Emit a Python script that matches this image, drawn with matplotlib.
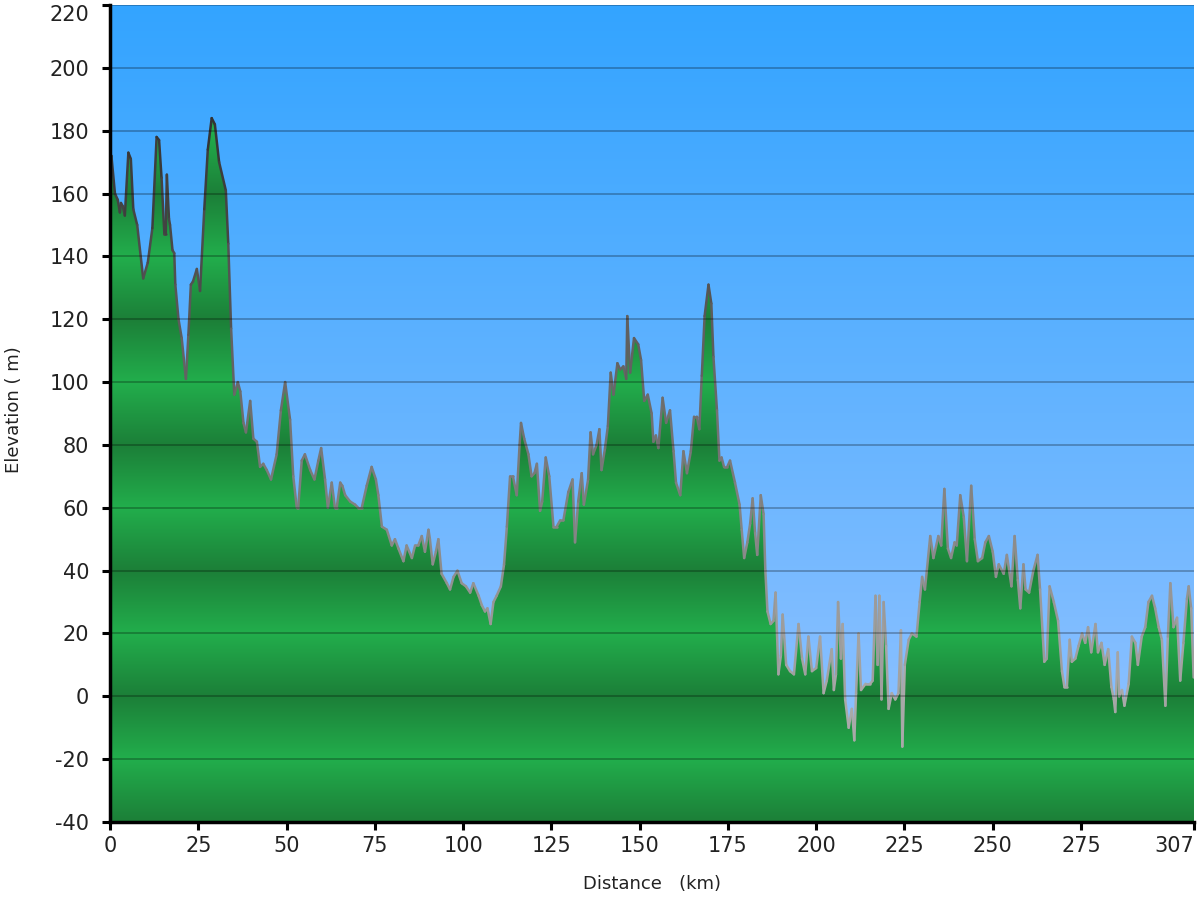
import numpy as np
import matplotlib
matplotlib.use("Agg")
import matplotlib.pyplot as plt
from matplotlib.colors import to_rgb
from matplotlib.collections import LineCollection
from matplotlib.patches import PathPatch
from matplotlib.path import Path

plt.rcParams["axes.unicode_minus"] = False
plt.rcParams["font.family"] = ["DejaVu Sans"]

# ---------------- data ----------------
distance_km = [
    0, 0.4, 1.4, 2.2, 2.8, 3.1, 3.6, 4.2, 5.2, 5.9, 6.6, 7.7, 9.4, 10.7, 12, 13.2, 13.9, 14.6,
    15.4, 15.8, 16.1, 16.7, 17, 17.7, 18.2, 18.5, 19.4, 20.3, 21.5, 22.2, 22.9, 23.5, 24.6,
    25.5, 26.7, 27.7, 28.8, 29.7, 30.9, 32.8, 33.5, 34.3, 35.2, 36.2, 36.9, 37.8, 38.5, 39.7,
    40.6, 41.6, 42.5, 43.4, 44.4, 45.6, 47.2, 48.4, 49.6, 51, 51.9, 52.9, 53.3, 54.3, 55.2,
    56.7, 57.9, 59, 59.8, 60.9, 61.7, 62.8, 63.7, 64.2, 65.2, 65.8, 66.6, 68, 69.4, 70.3,
    71.3, 72.7, 74.1, 75.3, 76, 77, 78.4, 79.8, 80.7, 81.7, 83.1, 84, 85.5, 86.4, 87.3, 88.3,
    89.2, 90.2, 90.6, 91.4, 92.3, 93, 93.9, 95.4, 96.3, 97.3, 98.4, 99.6, 100.8, 102, 102.9,
    104.4, 105.3, 106.2, 106.9, 107.8, 108.6, 109.5, 110.7, 111.6, 112.4, 113.3, 114.1, 115.2,
    116, 116.4, 117.3, 118.5, 119.4, 120.2, 120.9, 121.8, 122.4, 123.4, 124.4, 125.6, 126.5,
    127.5, 128.4, 129.8, 131, 131.7, 132.6, 133.6, 134.2, 135.4, 136.1, 136.8, 137.8, 138.6,
    139.2, 140.2, 141, 141.8, 142.6, 143.7, 144.5, 145.4, 146.2, 146.5, 147.3, 148.4, 149.6,
    150.4, 151.3, 152.3, 153.4, 153.9, 154.6, 155.3, 156.5, 157.5, 158.6, 159.6, 160.3, 161.5,
    162.4, 163.4, 164.5, 165.4, 166.2, 166.9, 167.6, 168.4, 169.5, 170.3, 170.9, 171.9, 172.6,
    173.2, 173.9, 174.8, 175.6, 177, 178.3, 178.9, 179.6, 180.5, 181.3, 182, 182.7, 183.3,
    184.3, 185.1, 185.6, 186.2, 187.1, 187.9, 188.5, 189.3, 190, 190.5, 191.5, 192.6, 193.7,
    195, 196, 196.9, 197.8, 198.8, 200, 201.1, 202.1, 203, 204.4, 205, 205.6, 206.2, 207,
    207.5, 208.2, 209.2, 210.1, 210.8, 211.3, 212, 212.7, 214, 215.3, 216, 216.8, 217.4,
    217.9, 218.5, 219.1, 219.8, 220.5, 221.4, 222.4, 223.3, 224, 224.4, 225.1, 226.2, 227.1,
    228.4, 229.3, 230, 230.8, 232.3, 233.2, 234.6, 235.4, 236.3, 237.3, 238.2, 239.2, 239.8,
    240.8, 241.8, 242.7, 243.9, 244.9, 245.8, 247, 247.9, 248.9, 250, 250.9, 251.7, 253.1,
    254, 255.3, 256.2, 257.1, 257.8, 258.7, 259.3, 260.3, 261.5, 262.7, 263.4, 264.6, 265.3,
    266.1, 267.3, 268.5, 269.6, 270.3, 271, 271.8, 272.4, 273.4, 274.3, 275.3, 276.2, 277,
    277.9, 279.1, 279.8, 280.8, 281.7, 282.7, 283.6, 284.3, 284.7, 285.4, 285.8, 286.6,
    287.3, 288.5, 289.4, 290.4, 291.1, 292.2, 293.2, 294.1, 295.1, 296, 297, 297.9, 298.9,
    299.6, 300.3, 301.2, 302.2, 303.1, 304, 305, 305.5, 306.2, 306.9, 307,
]
elevation_m = [
    165, 172, 160, 158, 154, 157, 156, 153, 173, 171, 155, 150, 133, 138, 149, 178, 177, 165,
    147, 147, 166, 152, 150, 142, 141, 131, 120, 114, 101, 115, 131, 132, 136,
    129, 155, 174, 184, 182, 170, 161, 144, 117, 96, 100, 97, 87, 84, 94,
    82, 81, 73, 74, 72, 69, 77, 91, 100, 88, 70, 60, 60, 75, 77,
    72, 69, 75, 79, 69, 60, 68, 60, 60, 68, 67, 64, 62, 61, 60,
    60, 67, 73, 69, 64, 54, 53, 48, 50, 47, 43, 48, 44, 48, 48, 51,
    46, 53, 50, 42, 46, 50, 39, 36, 34, 38, 40, 36, 35, 33, 36,
    32, 29, 27, 28, 23, 30, 32, 35, 42, 54, 70, 70, 64,
    80, 87, 82, 77, 70, 71, 74, 59, 62, 76, 70, 54, 54,
    56, 56, 65, 69, 49, 62, 71, 61, 69, 84, 77, 80, 85,
    72, 79, 86, 103, 96, 106, 104, 105, 101, 121, 103, 114, 112,
    107, 94, 96, 90, 81, 83, 79, 95, 87, 91, 78, 68, 64,
    78, 71, 78, 89, 89, 85, 102, 121, 131, 125, 108, 91, 75,
    76, 73, 73, 75, 68, 61, 53, 44, 49, 55, 63, 52, 45,
    64, 58, 40, 27, 23, 24, 33, 7, 13, 26, 10, 8, 7,
    23, 12, 7, 19, 8, 9, 19, 1, 5, 15, 2, 7, 30, 12,
    23, -1, -10, -4, -14, 1, 20, 2, 4, 4, 5, 32, 10,
    32, -1, 30, 16, -4, 1, -1, 1, 21, -16, 10, 18, 20,
    19, 30, 38, 34, 51, 44, 51, 48, 66, 47, 44, 49, 48,
    64, 57, 43, 67, 50, 43, 44, 49, 51, 46, 38, 42, 39,
    45, 35, 51, 37, 28, 42, 34, 33, 40, 45, 34, 11, 12,
    35, 30, 24, 8, 3, 3, 18, 11, 12, 16, 20, 17, 22,
    14, 23, 14, 17, 10, 15, 3, -1, -5, 14, 0, 2,
    -3, 4, 19, 17, 10, 19, 22, 30, 32, 28, 22, 18, -3,
    19, 36, 22, 25, 5, 17, 31, 35, 28, 6, 6,
]
x_ticks = [0, 25, 50, 75, 100, 125, 150, 175, 200, 225, 250, 275, 307]
y_ticks = list(range(-40, 221, 20))
x_label = "Distance   (km)"
y_label = "Elevation ( m)"

x = np.asarray(distance_km, dtype=float)
y = np.asarray(elevation_m, dtype=float)
xmin, xmax = 0, 307
ymin, ymax = -40, 220

# ---------------- figure ----------------
fig = plt.figure(figsize=(12, 9), dpi=100)
ax = fig.add_axes([110 / 1200, 78 / 900, 1084 / 1200, 817 / 900])
ax.set_xlim(xmin, xmax)
ax.set_ylim(ymin, ymax)

# sky gradient
n = 600
yy = np.linspace(ymax, ymin, n)
top = np.array(to_rgb("#33a4ff"))
bot = np.array(to_rgb("#97c4ff"))
t = ((ymax - yy) / (ymax - ymin))[:, None]
sky = (top * (1 - t) + bot * t)[:, None, :]
ax.imshow(sky, extent=[xmin, xmax, ymin, ymax], aspect="auto", zorder=0,
          interpolation="bilinear")

# green banded terrain (dark at multiples of 40, light in between)
light = np.array(to_rgb("#22ae4c"))
dark = np.array(to_rgb("#1c7f38"))
d = np.abs(((yy + 20) % 40) - 20) / 20.0
d = d[:, None]
green = (dark * (1 - d) + light * d)[:, None, :]
im = ax.imshow(green, extent=[xmin, xmax, ymin, ymax], aspect="auto", zorder=0.5,
               interpolation="bilinear")
verts = [(x[0], ymin)] + list(zip(x, y)) + [(x[-1], ymin), (x[0], ymin)]
codes = [Path.MOVETO] + [Path.LINETO] * (len(verts) - 2) + [Path.CLOSEPOLY]
clip = PathPatch(Path(verts, codes), transform=ax.transData, facecolor="none",
                 edgecolor="none")
ax.add_patch(clip)
im.set_clip_path(clip)

# outline, greyer at low elevations
pts = np.column_stack([x, y])
segs = np.stack([pts[:-1], pts[1:]], axis=1)
mid = (y[:-1] + y[1:]) / 2
f = np.clip((mid - 0) / 180.0, 0, 1)[:, None]
c_hi = np.array(to_rgb("#333333"))
c_lo = np.array(to_rgb("#a9a9a9"))
cols = c_lo * (1 - f) + c_hi * f
lc = LineCollection(segs, colors=cols, linewidths=1.8, zorder=1, capstyle="round",
                    joinstyle="round")
ax.add_collection(lc)

# grid
ax.set_axisbelow(False)
ax.yaxis.grid(True, color="black", alpha=0.3, linewidth=1.2)
ax.xaxis.grid(False)

# axes styling
for s in ["top", "right"]:
    ax.spines[s].set_visible(False)
for s in ["left", "bottom"]:
    ax.spines[s].set_linewidth(2.5)
    ax.spines[s].set_color("black")
    ax.spines[s].set_zorder(5)
ax.set_xticks(x_ticks)
ax.set_yticks(y_ticks)
ax.tick_params(axis="both", direction="out", length=6, width=2.2, color="black",
               labelsize=15, labelcolor="#222222")
ax.tick_params(axis="x", pad=4)
ax.tick_params(axis="y", pad=9)
ax.set_xlabel(x_label, fontsize=13, color="#222222", labelpad=14)
ax.set_ylabel(y_label, fontsize=13, color="#222222")
ax.yaxis.set_label_coords(-0.080, 0.505)

fig.canvas.draw()
ylabs = ax.get_yticklabels()
ylabs[-1].set_va("top")
xlabs = ax.get_xticklabels()
xlabs[-1].set_ha("right")

fig.savefig("out.png", dpi=100)
